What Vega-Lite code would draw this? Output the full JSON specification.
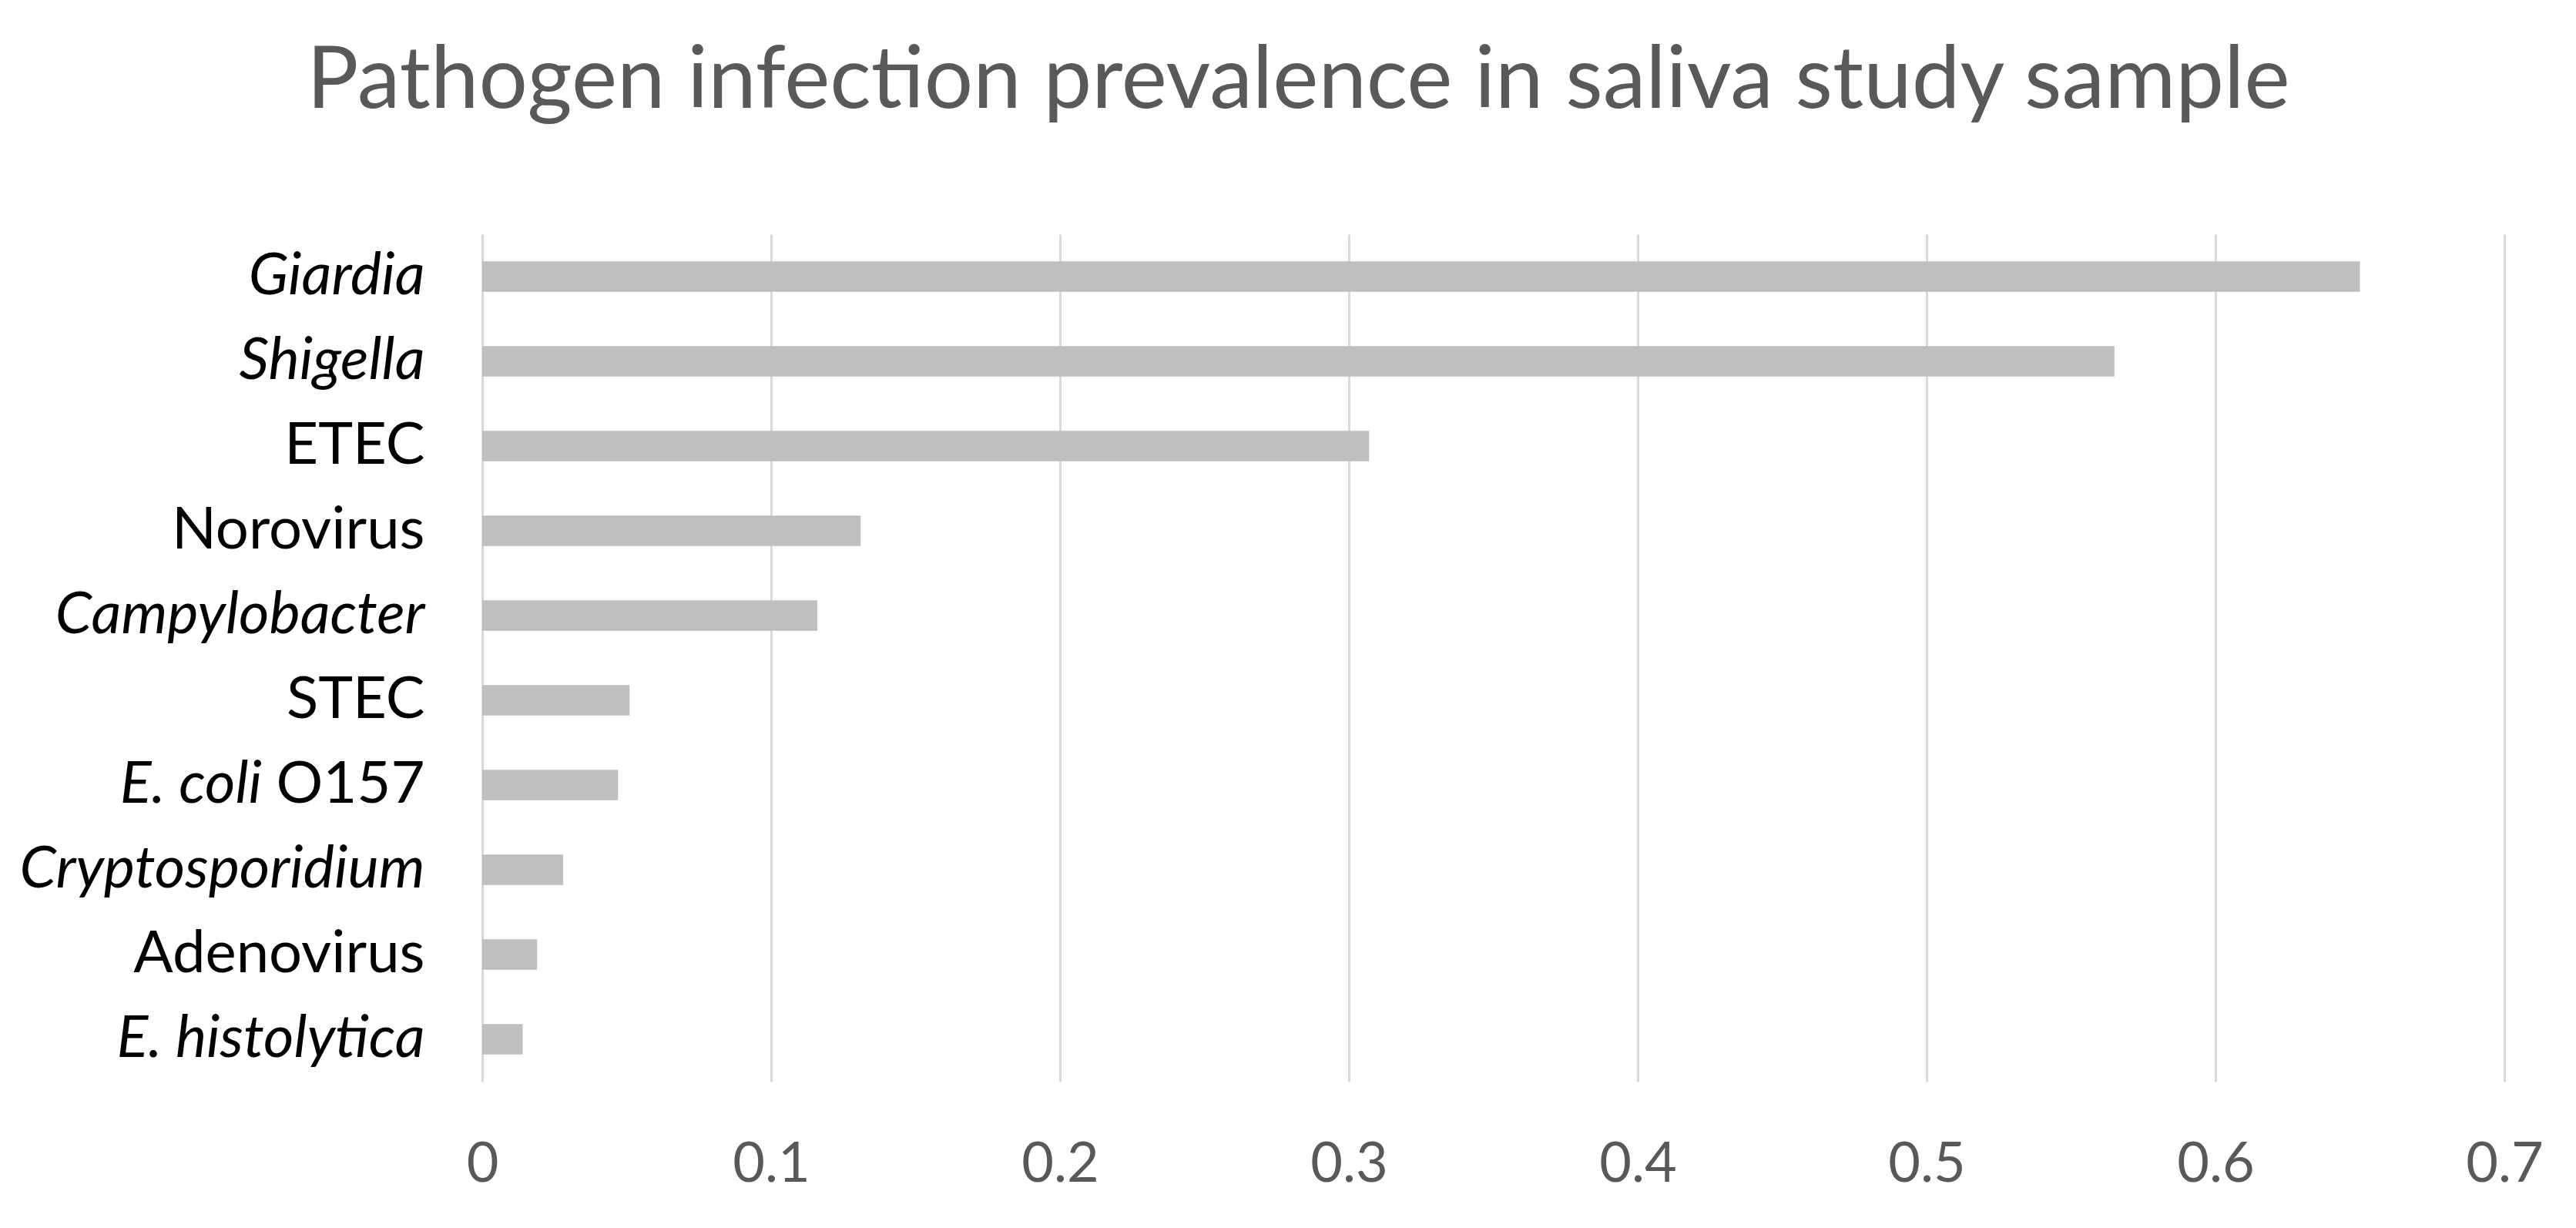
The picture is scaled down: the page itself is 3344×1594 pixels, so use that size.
{
  "$schema": "https://vega.github.io/schema/vega-lite/v6.json",
  "autosize": {"type": "none"},
  "width": 2625,
  "height": 1100,
  "padding": {"left": 626, "top": 304, "right": 93, "bottom": 190},
  "background": "white",
  "config": {"view": {"stroke": null}, "font": "Lato"},
  "title": {
    "text": "Pathogen infection prevalence in saliva study sample",
    "font": "Lato",
    "fontSize": 112,
    "fontWeight": "normal",
    "color": "#595959",
    "anchor": "middle",
    "frame": "group",
    "baseline": "alphabetic",
    "offset": 52,
    "dx": -253
  },
  "data": {
    "values": [
      {"pathogen": "Giardia", "prevalence": 0.650},
      {"pathogen": "Shigella", "prevalence": 0.565},
      {"pathogen": "ETEC", "prevalence": 0.307},
      {"pathogen": "Norovirus", "prevalence": 0.131},
      {"pathogen": "Campylobacter", "prevalence": 0.116},
      {"pathogen": "STEC", "prevalence": 0.051},
      {"pathogen": "E. coli O157", "prevalence": 0.047},
      {"pathogen": "Cryptosporidium", "prevalence": 0.028},
      {"pathogen": "Adenovirus", "prevalence": 0.019},
      {"pathogen": "E. histolytica", "prevalence": 0.014}
    ]
  },
  "encoding": {
    "y": {
      "field": "pathogen",
      "type": "nominal",
      "sort": null,
      "scale": {"paddingInner": 0.64, "paddingOuter": 0.32},
      "axis": {
        "title": null,
        "domain": false,
        "ticks": false,
        "grid": false,
        "labelFont": "Lato",
        "labelFontSize": 76,
        "labelColor": "#000000",
        "labelPadding": 75,
        "labelLimit": 1000,
        "labelExpr": "datum.value == 'E. coli O157' ? 'O157' : datum.label",
        "labelFontStyle": {
          "condition": {"test": "indexof(['Giardia','Shigella','Campylobacter','Cryptosporidium','E. histolytica'], datum.value) >= 0", "value": "italic"},
          "value": "normal"
        }
      }
    }
  },
  "layer": [
    {
      "mark": {"type": "bar", "color": "#BFBFBF"},
      "encoding": {
        "x": {
          "field": "prevalence",
          "type": "quantitative",
          "scale": {"domain": [0, 0.7], "nice": false},
          "axis": {
            "title": null,
            "domain": false,
            "ticks": false,
            "grid": true,
            "gridColor": "#D9D9D9",
            "gridWidth": 3,
            "values": [0, 0.1, 0.2, 0.3, 0.4, 0.5, 0.6, 0.7],
            "format": ".1~f",
            "labelFont": "Lato",
            "labelFontSize": 72,
            "labelColor": "#595959",
            "labelPadding": 72,
            "labelFlush": false,
            "labelOverlap": false
          }
        }
      }
    },
    {
      "transform": [{"filter": "datum.pathogen == 'E. coli O157'"}],
      "mark": {
        "type": "text",
        "text": "E. coli",
        "align": "right",
        "baseline": "middle",
        "font": "Lato",
        "fontSize": 76,
        "fontStyle": "italic",
        "color": "#000000",
        "dx": -286
      },
      "encoding": {
        "x": {"datum": 0, "type": "quantitative"}
      }
    }
  ]
}
